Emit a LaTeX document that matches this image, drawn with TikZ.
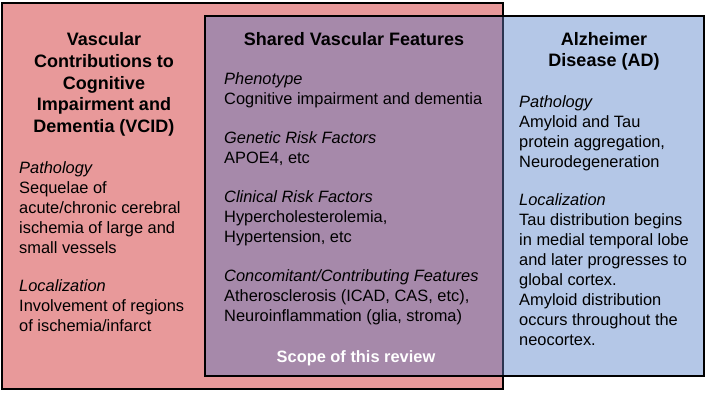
\documentclass[tikz,border=0pt]{standalone}
\usepackage{fontspec}
\setmainfont{Liberation Sans}
\usetikzlibrary{positioning,calc}
\definecolor{vcidbg}{HTML}{E8999A}
\definecolor{sharedbg}{HTML}{A689AA}
\definecolor{adbg}{HTML}{B4C7E7}
\definecolor{seam}{HTML}{2B3450}
\newcommand{\hd}[1]{{\itshape #1}}
\tikzset{
  region/.style ={draw=black, line width=2.2pt, inner sep=0pt, outer sep=0pt},
  frame/.style  ={draw=black, line width=2.2pt},
  divider/.style={draw=seam,  line width=2.2pt},
  ttl/.style    ={anchor=base, align=center, inner sep=0pt, font=\fontsize{18}{21.7}\selectfont\bfseries},
  body/.style   ={anchor=base west, align=left, inner sep=0pt, font=\fontsize{16.4}{20}\selectfont},
  scope/.style  ={anchor=base, inner sep=0pt, text=white, font=\fontsize{16.4}{20}\selectfont\bfseries},
}

\begin{document}
\begin{tikzpicture}[x=1pt,y=-1pt]
  \useasboundingbox (0,0) rectangle (708,393);

  % the two overlapping fields
  \node[region,fill=vcidbg,minimum width=501pt,minimum height=386pt] (vcid) at (252.5,196) {};
  \node[region,fill=adbg,minimum width=499pt,minimum height=360pt] (ad) at (454.5,196) {};
  \fill[sharedbg] (ad.north west) rectangle (vcid.east |- ad.south);
  \draw[divider] (vcid.east |- ad.north) -- (vcid.east |- ad.south);
  \draw[frame] (ad.north west) rectangle (ad.south east);

  % titles (placed by the baseline of their last line)
  \node[ttl] (vcidtitle) at (104,132.5)
    {Vascular\\ Contributions to\\ Cognitive\\ Impairment and\\ Dementia (VCID)};
  \node[ttl] (sharedtitle) at (354,45.7) {Shared Vascular Features};
  \node[ttl] (adtitle) at (604,67) {Alzheimer\\ Disease (AD)};

  % text of each field
  \node[body] (vcidtext) at (19,331)
    {\hd{Pathology}\\ Sequelae of\\ acute/chronic cerebral\\ ischemia of large and\\ small vessels\\[18pt]
     \hd{Localization}\\ Involvement of regions\\ of ischemia/infarct};
  \node[body] (sharedtext) at (224,321)
    {\hd{Phenotype}\\ Cognitive impairment and dementia\\[19pt]
     \hd{Genetic Risk Factors}\\ APOE4, etc\\[19pt]
     \hd{Clinical Risk Factors}\\ Hypercholesterolemia,\\ Hypertension, etc\\[19pt]
     \hd{Concomitant/Contributing Features}\\ Atherosclerosis (ICAD, CAS, etc),\\ Neuroinflammation (glia, stroma)};
  \node[body] (adtext) at (519,345)
    {\hd{Pathology}\\ Amyloid and Tau\\ protein aggregation,\\ Neurodegeneration\\[18pt]
     \hd{Localization}\\ Tau distribution begins\\ in medial temporal lobe\\ and later progresses to\\ global cortex.\\
     Amyloid distribution\\ occurs throughout the\\ neocortex.};

  \node[scope] (scopenote) at (356,362) {Scope of this review};
\end{tikzpicture}
\end{document}
